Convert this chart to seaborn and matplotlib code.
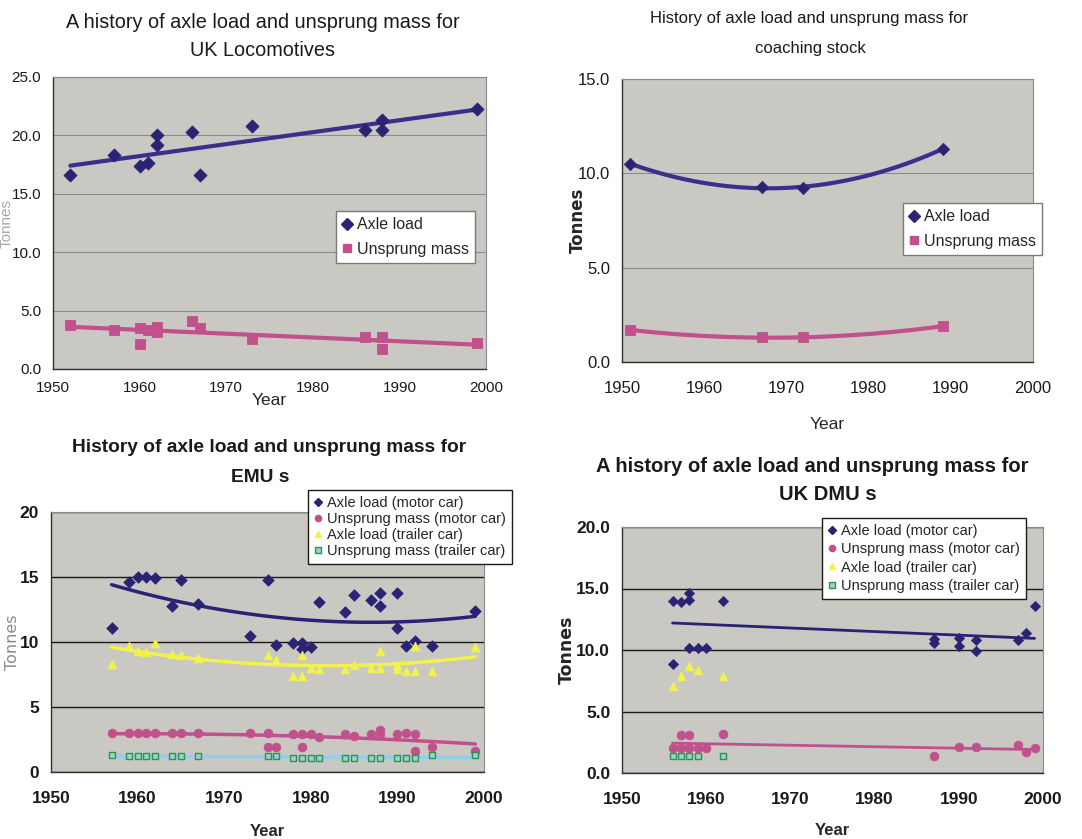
import numpy as np
import pandas as pd
import seaborn as sns
import matplotlib.pyplot as plt
from matplotlib.lines import Line2D

# ---------------- data ----------------
# UK locomotives
loco_axle_year = [1952, 1957, 1960, 1961, 1962, 1962, 1966, 1967, 1973, 1986, 1988, 1988, 1999]
loco_axle = [16.6, 18.3, 17.4, 17.6, 20.0, 19.2, 20.3, 16.6, 20.8, 20.5, 20.5, 21.3, 22.3]
loco_unsprung_year = [1952, 1957, 1960, 1960, 1961, 1962, 1962, 1966, 1967, 1973, 1986, 1988, 1988, 1999]
loco_unsprung = [3.8, 3.3, 3.5, 2.1, 3.3, 3.6, 3.2, 4.1, 3.5, 2.6, 2.7, 2.7, 1.7, 2.2]

# Coaching stock
coach_year = [1951, 1967, 1972, 1989]
coach_axle = [10.5, 9.3, 9.2, 11.3]
coach_unsprung = [1.7, 1.3, 1.3, 1.9]

# EMUs
emu_axle_motor_year = [1957, 1959, 1960, 1961, 1962, 1964, 1965, 1967, 1973, 1975, 1976, 1978,
                       1979, 1979, 1980, 1981, 1984, 1985, 1987, 1988, 1988, 1990, 1990, 1991,
                       1992, 1994, 1999]
emu_axle_motor = [11.1, 14.6, 15.0, 15.0, 14.9, 12.8, 14.8, 12.9, 10.5, 14.8, 9.8, 9.9,
                  9.9, 9.5, 9.6, 13.1, 12.3, 13.6, 13.2, 13.8, 12.8, 13.8, 11.1, 9.7,
                  10.1, 9.7, 12.4]
emu_unsprung_motor_year = [1957, 1959, 1960, 1961, 1962, 1964, 1965, 1967, 1973, 1975, 1975, 1976,
                           1978, 1979, 1979, 1980, 1981, 1984, 1985, 1987, 1988, 1988, 1990,
                           1991, 1992, 1992, 1994, 1999]
emu_unsprung_motor = [3.0, 3.0, 3.0, 3.0, 3.0, 3.0, 3.0, 3.0, 3.0, 3.0, 1.9, 1.9,
                      2.9, 2.9, 1.9, 2.9, 2.7, 2.9, 2.8, 2.9, 3.2, 2.9, 2.9,
                      3.0, 2.9, 1.6, 1.9, 1.6]
emu_axle_trailer_year = [1957, 1959, 1960, 1961, 1962, 1964, 1965, 1967, 1975, 1976, 1978, 1979,
                         1979, 1980, 1981, 1984, 1985, 1987, 1988, 1988, 1990, 1990, 1991,
                         1992, 1992, 1994, 1999]
emu_axle_trailer = [8.3, 9.7, 9.3, 9.2, 9.9, 9.1, 9.0, 8.8, 9.0, 8.6, 7.4, 7.4,
                    9.0, 8.0, 7.9, 7.9, 8.2, 8.0, 9.3, 8.0, 8.2, 7.9, 7.8,
                    7.8, 9.7, 7.8, 9.6]
emu_unsprung_trailer_year = [1957, 1959, 1960, 1961, 1962, 1964, 1965, 1967, 1975, 1976, 1978,
                             1979, 1980, 1981, 1984, 1985, 1987, 1988, 1990, 1991, 1992,
                             1994, 1999]
emu_unsprung_trailer = [1.3, 1.2, 1.2, 1.2, 1.2, 1.2, 1.2, 1.2, 1.2, 1.2, 1.1,
                        1.1, 1.1, 1.1, 1.1, 1.1, 1.1, 1.1, 1.1, 1.1, 1.1,
                        1.3, 1.3]

# DMUs
dmu_axle_motor_year = [1956, 1957, 1958, 1958, 1962, 1956, 1958, 1959, 1960,
                       1987, 1987, 1990, 1990, 1992, 1992, 1997, 1998, 1999]
dmu_axle_motor = [14.0, 13.9, 14.1, 14.6, 14.0, 8.9, 10.2, 10.2, 10.2,
                  10.9, 10.6, 11.0, 10.3, 10.8, 9.9, 10.8, 11.4, 13.6]
dmu_unsprung_motor_year = [1956, 1957, 1958, 1959, 1960, 1957, 1958, 1962,
                           1987, 1990, 1992, 1997, 1998, 1999]
dmu_unsprung_motor = [2.0, 2.0, 2.0, 2.0, 2.0, 3.1, 3.1, 3.2,
                      1.4, 2.1, 2.1, 2.3, 1.7, 2.0]
dmu_axle_trailer_year = [1956, 1957, 1958, 1959, 1962]
dmu_axle_trailer = [7.1, 7.9, 8.7, 8.4, 7.9]
dmu_unsprung_trailer_year = [1956, 1957, 1958, 1959, 1962]
dmu_unsprung_trailer = [1.4, 1.4, 1.4, 1.4, 1.4]

year_ticks = [1950, 1960, 1970, 1980, 1990, 2000]

# ---------------- style ----------------
sns.set_style("white")
plt.rcParams["font.family"] = ["Liberation Sans Narrow", "Liberation Sans", "DejaVu Sans"]

NAVY = "#2a2373"
PINK = "#c2508c"
YELLOW = "#f2f24a"
SKY = "#8fd0ee"
TEAL_FACE = "#9ad7b4"
TEAL_EDGE = "#2f8f63"
PANEL = "#c9c8c3"

fig = plt.figure(figsize=(10.82, 8.39), dpi=100)
W, H = 1082, 839


def add_axes(left, top, right, bottom):
    return fig.add_axes([left / W, 1 - bottom / H, (right - left) / W, (bottom - top) / H])


def style_axes(ax, ymax, ystep, yfmt, grid_color, grid_lw, tick_weight, tick_size):
    ax.set_facecolor(PANEL)
    ax.set_xlim(1950, 2000)
    ax.set_ylim(0, ymax)
    ax.set_xticks(year_ticks)
    ax.set_yticks(np.arange(0, ymax + 0.01, ystep))
    ax.set_yticklabels([yfmt.format(v) for v in np.arange(0, ymax + 0.01, ystep)])
    ax.grid(axis="y", color=grid_color, linewidth=grid_lw)
    ax.grid(axis="x", visible=False)
    ax.set_axisbelow(True)
    for s in ["top", "right"]:
        ax.spines[s].set_color("#8a8a8a")
        ax.spines[s].set_linewidth(0.8)
    for s in ["left", "bottom"]:
        ax.spines[s].set_color("#303030")
        ax.spines[s].set_linewidth(1.0)
    ax.tick_params(axis="both", direction="out", length=5, width=1, color="#303030",
                   labelsize=tick_size, labelcolor="#1a1a1a")
    for lab in ax.get_xticklabels() + ax.get_yticklabels():
        lab.set_fontweight(tick_weight)


def trend(ax, x, y, order, color, lw):
    sns.regplot(x=np.array(x, float), y=np.array(y, float), order=order, ci=None,
                scatter=False, ax=ax, line_kws={"color": color, "linewidth": lw})


# ---------- UK locomotives ----------
ax1 = add_axes(53, 77, 486, 369)
style_axes(ax1, 25, 5, "{:.1f}", "#8c8c8c", 0.8, "normal", 11)
trend(ax1, loco_axle_year, loco_axle, 1, "#3b2f8c", 3)
trend(ax1, loco_unsprung_year, loco_unsprung, 1, PINK, 3)
sns.scatterplot(x=loco_axle_year, y=loco_axle, ax=ax1, marker="D", s=45,
                color=NAVY, edgecolor=NAVY, zorder=3)
sns.scatterplot(x=loco_unsprung_year, y=loco_unsprung, ax=ax1, marker="s", s=60,
                color=PINK, edgecolor=PINK, zorder=3)
ax1.set_xlabel("Year", fontsize=12.5, labelpad=-2)
ax1.set_ylabel("Tonnes", fontsize=11, color="#a8a8a8")
ax1.yaxis.set_label_coords(-0.09, 0.5)
ax1.tick_params(axis="x", pad=4)

# ---------- coaching stock ----------
ax2 = add_axes(622, 79, 1033, 362)
style_axes(ax2, 15, 5, "{:.1f}", "#8c8c8c", 0.8, "normal", 12)
trend(ax2, coach_year, coach_axle, 2, "#3b2f8c", 3)
trend(ax2, coach_year, coach_unsprung, 2, PINK, 3)
sns.scatterplot(x=coach_year, y=coach_axle, ax=ax2, marker="D", s=40,
                color=NAVY, edgecolor=NAVY, zorder=3)
sns.scatterplot(x=coach_year, y=coach_unsprung, ax=ax2, marker="s", s=55,
                color=PINK, edgecolor=PINK, zorder=3)
ax2.set_xlabel("Year", fontsize=12.5, labelpad=15)
ax2.set_ylabel("Tonnes", fontsize=12, fontweight="bold", family=["DejaVu Sans"])
ax2.yaxis.set_label_coords(-0.085, 0.5)
ax2.tick_params(axis="x", pad=9)

# ---------- EMUs ----------
ax3 = add_axes(51, 512, 484, 772)
style_axes(ax3, 20, 5, "{:.0f}", "#1a1a1a", 1.0, "bold", 12.5)
trend(ax3, emu_axle_motor_year, emu_axle_motor, 2, NAVY, 2.5)
trend(ax3, emu_axle_trailer_year, emu_axle_trailer, 2, YELLOW, 2.5)
trend(ax3, emu_unsprung_motor_year, emu_unsprung_motor, 2, PINK, 2.5)
trend(ax3, emu_unsprung_trailer_year, emu_unsprung_trailer, 1, SKY, 2.5)
sns.scatterplot(x=emu_axle_motor_year, y=emu_axle_motor, ax=ax3, marker="D", s=35,
                color=NAVY, edgecolor=NAVY, zorder=3)
sns.scatterplot(x=emu_unsprung_motor_year, y=emu_unsprung_motor, ax=ax3, marker="o", s=40,
                color=PINK, edgecolor=PINK, zorder=3)
sns.scatterplot(x=emu_axle_trailer_year, y=emu_axle_trailer, ax=ax3, marker="^", s=40,
                color=YELLOW, edgecolor=YELLOW, zorder=3)
sns.scatterplot(x=emu_unsprung_trailer_year, y=emu_unsprung_trailer, ax=ax3, marker="s", s=22,
                color=TEAL_FACE, edgecolor=TEAL_EDGE, linewidth=1, zorder=3)
ax3.set_xlabel("Year", fontsize=12, fontweight="bold", labelpad=13)
ax3.set_ylabel("Tonnes", fontsize=11.5, color="#8a8a8a", family=["DejaVu Sans"])
ax3.yaxis.set_label_coords(-0.071, 0.5)
ax3.tick_params(axis="x", pad=9)

# ---------- DMUs ----------
ax4 = add_axes(622, 527, 1043, 773)
style_axes(ax4, 20, 5, "{:.1f}", "#1a1a1a", 1.0, "bold", 12.5)
trend(ax4, dmu_axle_motor_year, dmu_axle_motor, 1, NAVY, 2)
trend(ax4, dmu_unsprung_motor_year, dmu_unsprung_motor, 1, PINK, 2)
sns.scatterplot(x=dmu_axle_motor_year, y=dmu_axle_motor, ax=ax4, marker="D", s=28,
                color=NAVY, edgecolor=NAVY, zorder=3)
sns.scatterplot(x=dmu_unsprung_motor_year, y=dmu_unsprung_motor, ax=ax4, marker="o", s=40,
                color=PINK, edgecolor=PINK, zorder=3)
sns.scatterplot(x=dmu_axle_trailer_year, y=dmu_axle_trailer, ax=ax4, marker="^", s=40,
                color=YELLOW, edgecolor=YELLOW, zorder=3)
sns.scatterplot(x=dmu_unsprung_trailer_year, y=dmu_unsprung_trailer, ax=ax4, marker="s", s=22,
                color=TEAL_FACE, edgecolor=TEAL_EDGE, linewidth=1, zorder=3)
ax4.set_xlabel("Year", fontsize=12, fontweight="bold", labelpad=11)
ax4.set_ylabel("Tonnes", fontsize=12.5, fontweight="bold", family=["DejaVu Sans"])
ax4.yaxis.set_label_coords(-0.11, 0.5)
ax4.tick_params(axis="x", pad=9)

# ---------------- legends ----------------
def handle(marker, face, edge, size):
    return Line2D([], [], linestyle="none", marker=marker, markersize=size,
                  markerfacecolor=face, markeredgecolor=edge)


two_labels = ["Axle load", "Unsprung mass"]
four_labels = ["Axle load (motor car)", "Unsprung mass (motor car)",
               "Axle load (trailer car)", "Unsprung mass (trailer car)"]


def place_legend(ax, handles, labels, left, top, fs, frame_color, spacing):
    leg = ax.legend(handles, labels, loc="upper left",
                    bbox_to_anchor=(left / W, 1 - top / H), bbox_transform=fig.transFigure,
                    fontsize=fs, frameon=True, fancybox=False, handlelength=0.6,
                    handletextpad=0.3, borderpad=0.4, labelspacing=spacing,
                    borderaxespad=0)
    leg.get_frame().set_facecolor("white")
    leg.get_frame().set_edgecolor(frame_color)
    leg.get_frame().set_linewidth(1.0)
    leg.get_frame().set_alpha(1)
    leg.set_zorder(10)
    return leg


place_legend(ax1, [handle("D", NAVY, NAVY, 6), handle("s", PINK, PINK, 6)], two_labels,
             336, 211, 11.5, "#7a7a7a", 0.6)
place_legend(ax2, [handle("D", NAVY, NAVY, 6), handle("s", PINK, PINK, 6)], two_labels,
             903, 203, 11.5, "#7a7a7a", 0.6)
four_handles = [handle("D", NAVY, NAVY, 4), handle("o", PINK, PINK, 4.5),
                handle("^", YELLOW, YELLOW, 4.5), handle("s", TEAL_FACE, TEAL_EDGE, 4)]
place_legend(ax3, four_handles, four_labels, 308, 490, 10.5, "#1a1a1a", 0.15)
place_legend(ax4, four_handles, four_labels, 822, 518, 10.5, "#1a1a1a", 0.3)

# ---------------- titles ----------------
def title_line(x, y, text, size, weight="normal"):
    fig.text(x / W, 1 - y / H, text, ha="center", va="center", fontsize=size,
             fontweight=weight, color="#1a1a1a")


title_line(263, 22, "A history of axle load and unsprung mass for", 14.3)
title_line(263, 50, "UK Locomotives", 14.3)
title_line(809, 18, "History of axle load and unsprung mass for", 12)
title_line(810, 48, "coaching stock", 12)
title_line(269, 447, "History of axle load and unsprung mass for", 13.8, "bold")
title_line(260, 478, "EMU s", 13.8, "bold")
title_line(812, 467, "A history of axle load and unsprung mass for", 14.5, "bold")
title_line(828, 495, "UK DMU s", 14.5, "bold")

fig.savefig("out.png", dpi=100, facecolor="white")
